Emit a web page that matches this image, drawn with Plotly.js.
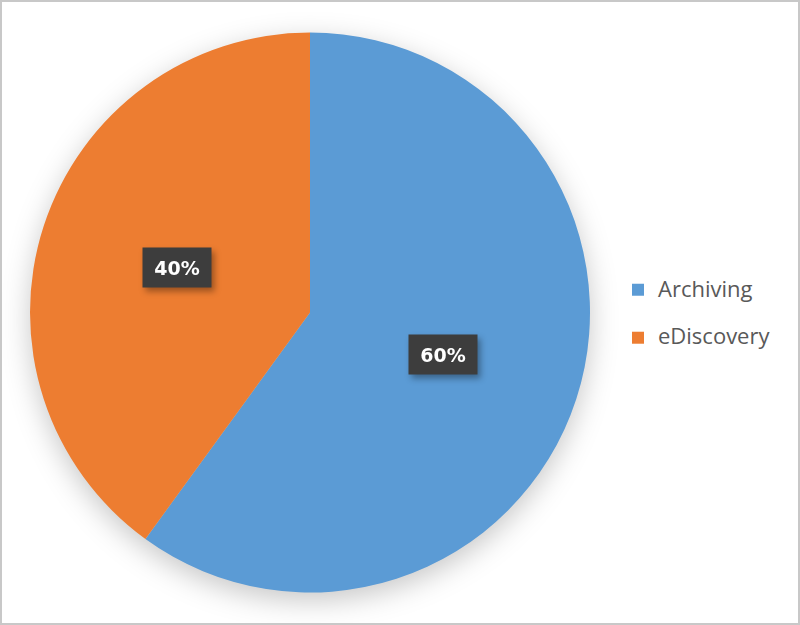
<!DOCTYPE html>
<html>
<head>
<meta charset="utf-8">
<script src="https://cdn.plot.ly/plotly-3.0.1.min.js"></script>
<style>
  html, body { margin: 0; padding: 0; background: #fff; }
  #chart { width: 800px; height: 625px; }
  .pielayer { filter: drop-shadow(0px 8px 14px rgba(0,0,0,0.22)); }
  .annotation-text-g { filter: drop-shadow(3px 4px 3px rgba(0,0,0,0.35)); }
</style>
</head>
<body>
<div id="chart"></div>
<script>
// ---- data ----
const categories = ['Archiving', 'eDiscovery'];
const shares = [60, 40];
const sliceColors = ['#5b9bd5', '#ed7d31'];

// ---- layout constants ----
const W = 800, H = 625;
const CX = 310, CY = 312.5, R = 280;     // pie centre / radius in px
const LABEL_FRAC = 0.5;                  // label distance as fraction of radius

const domainX = [(CX - R) / W, (CX + R) / W];
const domainY = [1 - (CY + R) / H, 1 - (CY - R) / H];

const total = shares.reduce((a, b) => a + b, 0);

// percentage labels placed at each slice's mid-angle (clockwise from 12 o'clock)
const annotations = [];
let cum = 0;
shares.forEach((v, i) => {
  const mid = (cum + v / 2) / total * 2 * Math.PI;
  cum += v;
  const px = CX + LABEL_FRAC * R * Math.sin(mid);
  const py = CY - LABEL_FRAC * R * Math.cos(mid) - 1.5;
  annotations.push({
    xref: 'paper', yref: 'paper',
    x: px / W, y: 1 - py / H,
    xanchor: 'center', yanchor: 'middle',
    text: Math.round(v / total * 100) + '%',
    showarrow: false,
    font: { family: 'DejaVu Sans, sans-serif', size: 19, color: '#ffffff', weight: 'bold' },
    bgcolor: '#3d3d3d',
    width: 62, height: 33, borderpad: 3
  });
});

const trace = {
  type: 'pie',
  labels: categories.map(c => '<span style="font-size:22px">' + c + '</span><br>&nbsp;'),
  values: shares,
  sort: false,
  direction: 'clockwise',
  rotation: 0,
  marker: { colors: sliceColors, line: { width: 0 } },
  textinfo: 'none',
  hoverinfo: 'percent',
  domain: { x: domainX, y: domainY }
};

const layout = {
  width: W, height: H,
  margin: { l: 0, r: 0, t: 0, b: 0 },
  paper_bgcolor: '#ffffff',
  showlegend: true,
  legend: {
    x: 618 / W, xanchor: 'left',
    y: 1 - 272 / H, yanchor: 'top',
    valign: 'top',
    font: { family: 'Open Sans, DejaVu Sans, sans-serif', size: 17.3, color: '#595959' },
    bgcolor: 'rgba(0,0,0,0)'
  },
  annotations: annotations,
  shapes: [{
    type: 'rect', xref: 'paper', yref: 'paper',
    x0: 0, x1: 1, y0: 0, y1: 1,
    line: { color: '#c8c8c8', width: 4 }
  }]
};

Plotly.newPlot('chart', [trace], layout, { displayModeBar: false, staticPlot: true });
</script>
</body>
</html>
